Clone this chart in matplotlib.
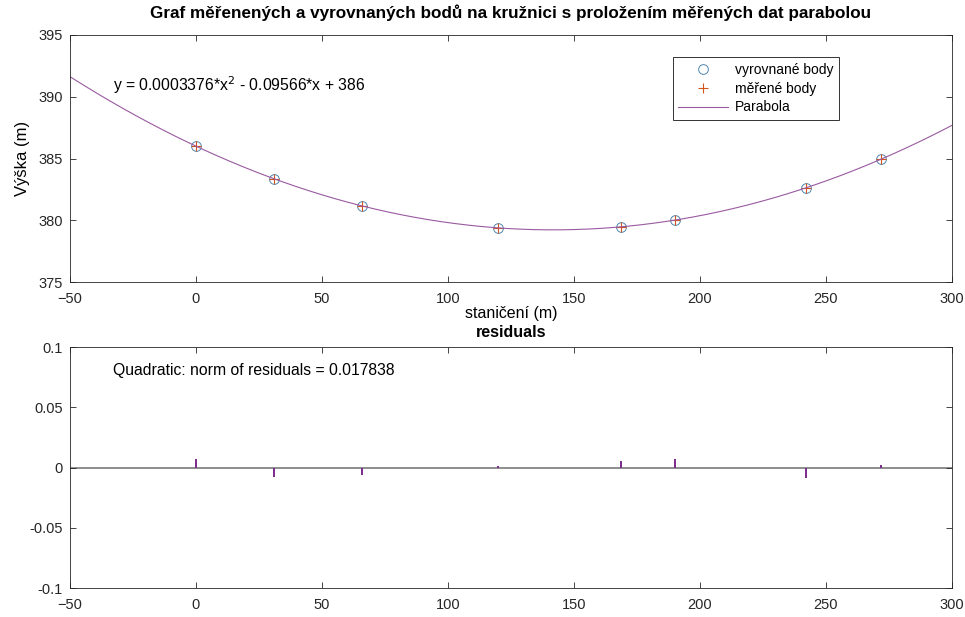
import numpy as np
import matplotlib.pyplot as plt
from matplotlib.ticker import FuncFormatter

plt.rcParams['font.family'] = ['Liberation Sans', 'DejaVu Sans']

# ----------------------------
# data
# ----------------------------
stations = [0, 31, 66, 120, 168.5, 190, 242, 272]                 # staničení (m)
measured = [386.007, 383.352, 381.154, 379.381, 379.475, 380.017, 382.611, 384.962]
adjusted = [386.000, 383.360, 381.161, 379.380, 379.470, 380.010, 382.620, 384.960]
residuals = [0.007, -0.008, -0.0065, 0.001, 0.005, 0.007, -0.009, 0.002]
coeffs = [0.0003376, -0.09566, 386]                                # parabola p2, p1, p0
norm_res = 0.017838

x_lim = (-50, 300)
x_ticks = [-50, 0, 50, 100, 150, 200, 250, 300]
y_ticks_top = [375, 380, 385, 390, 395]
y_ticks_res = [-0.1, -0.05, 0, 0.05, 0.1]

axis_col = '#262626'
line_col = '#9A5AA0'


def style(ax):
    ax.tick_params(direction='in', top=True, right=True, length=4,
                   labelsize=10.5, colors=axis_col, width=0.6)
    ax.tick_params(axis='x', pad=7)
    ax.tick_params(axis='y', pad=5)
    for s in ax.spines.values():
        s.set_color(axis_col)
        s.set_linewidth(0.6)


fig = plt.figure(figsize=(9.65, 6.17), dpi=100)
ax1 = fig.add_axes([0.0725, 0.5429, 0.914, 0.4004])
ax2 = fig.add_axes([0.0725, 0.0470, 0.914, 0.3906])

# ----------------------------
# top: points + parabola
# ----------------------------
xs = np.linspace(x_lim[0], x_lim[1], 400)
ax1.plot(stations, adjusted, 'o', mfc='none', mec='#4F86AE', ms=7, mew=0.7,
         label='vyrovnané body')
ax1.plot(stations, measured, '+', color='#D2541E', ms=7, mew=0.8,
         label='měřené body')
ax1.plot(xs, np.polyval(coeffs, xs), color=line_col, lw=0.8, label='Parabola')

ax1.set_xlim(*x_lim)
ax1.set_ylim(375, 395)
ax1.set_xticks(x_ticks)
ax1.set_yticks(y_ticks_top)
style(ax1)
ax1.set_title('Graf měřenených a vyrovnaných bodů na kružnici s proložením měřených dat parabolou',
              fontsize=12.3, fontweight='bold', pad=12)
ax1.set_xlabel('staničení (m)', fontsize=11.5, labelpad=0)
ax1.set_ylabel('Výška (m)', fontsize=12, labelpad=6)
ax1.text(-33, 390.9, 'y = 0.0003376*x$^2$ - 0.09566*x + 386', fontsize=11.3,
         va='center', ha='left')
leg = ax1.legend(loc='upper right', bbox_to_anchor=(0.872, 0.91), fontsize=10,
                 frameon=True, fancybox=False, edgecolor='black',
                 borderpad=0.4, handlelength=3.6, labelspacing=0.35,
                 handletextpad=0.5, borderaxespad=0)
leg.get_frame().set_linewidth(0.7)

# ----------------------------
# bottom: residuals
# ----------------------------
ax2.axhline(0, color='#7a7a7a', lw=1.2, zorder=1)
ax2.bar(stations, residuals, width=0.8, color='#7E2F8E', zorder=2)
ax2.set_xlim(*x_lim)
ax2.set_ylim(-0.1, 0.1)
ax2.set_xticks(x_ticks)
ax2.set_yticks(y_ticks_res)
ax2.yaxis.set_major_formatter(FuncFormatter(lambda v, p: f'{v:g}'))
style(ax2)
ax2.set_title('residuals', fontsize=11.5, fontweight='bold', pad=7)
ax2.text(-33, 0.0806, f'Quadratic: norm of residuals = {norm_res:g}', fontsize=11.3,
         va='center', ha='left')

fig.savefig('out.png', dpi=100)
